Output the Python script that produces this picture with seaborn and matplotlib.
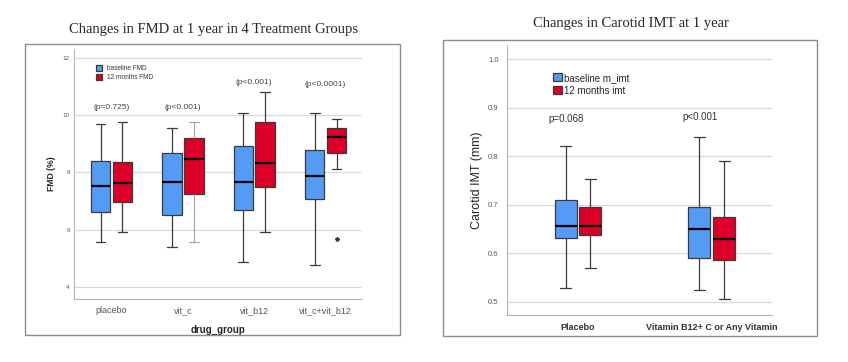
import numpy as np
import pandas as pd
import seaborn as sns
import matplotlib.pyplot as plt
from matplotlib.patches import Rectangle


# ----------------------------------------
# DATA (five-number summaries)
# ----------------------------------------

fmd_groups = ["placebo", "vit_c", "vit_b12", "vit_c+vit_b12"]
fmd_series = ["baseline FMD", "12 months FMD"]
# low whisker, Q1, median, Q3, high whisker
fmd_baseline = [
    [5.56, 6.61, 7.51, 8.40, 9.67],
    [5.40, 6.51, 7.66, 8.66, 9.53],
    [4.87, 6.67, 7.66, 8.92, 10.08],
    [4.76, 7.08, 7.88, 8.79, 10.08],
]
fmd_12m = [
    [5.91, 6.98, 7.62, 8.37, 9.75],
    [5.57, 7.23, 8.45, 9.20, 9.75],
    [5.91, 7.48, 8.31, 9.75, 10.79],
    [8.10, 8.66, 9.24, 9.53, 9.86],
]
fmd_outlier_group = "vit_c+vit_b12"
fmd_outlier_value = 5.67
fmd_pvalues = ["(p=0.725)", "(p<0.001)", "(p<0.001)", "(p<0.0001)"]
fmd_pvalue_y = [10.25, 10.25, 11.14, 11.06]
fmd_yticks = [4, 6, 8, 10, 12]

imt_groups = ["Placebo", "Vitamin B12+ C or Any Vitamin"]
imt_series = ["baseline m_imt", "12 months imt"]
imt_baseline = [
    [0.529, 0.631, 0.655, 0.710, 0.821],
    [0.525, 0.590, 0.649, 0.695, 0.840],
]
imt_12m = [
    [0.570, 0.637, 0.655, 0.695, 0.753],
    [0.505, 0.585, 0.630, 0.675, 0.790],
]
imt_pvalues = ["p=0.068", "p<0.001"]
imt_pvalue_y = [0.876, 0.880]
imt_yticks = [0.5, 0.6, 0.7, 0.8, 0.9, 1.0]

BLUE = "#559bf5"
RED = "#dc0028"
EDGE = "#3a3a3a"
GRID = "#d9d9d9"


def long_frame(groups, series, base, later):
    rows = []
    for g, b, l in zip(groups, base, later):
        for v in b:
            rows.append({"group": g, "series": series[0], "value": v})
        for v in l:
            rows.append({"group": g, "series": series[1], "value": v})
    return pd.DataFrame(rows)


fmd_df = long_frame(fmd_groups, fmd_series, fmd_baseline, fmd_12m)
imt_df = long_frame(imt_groups, imt_series, imt_baseline, imt_12m)

sns.set_style("white")
plt.rcParams["font.family"] = ["Liberation Sans", "DejaVu Sans"]

fig = plt.figure(figsize=(8.48, 3.62), dpi=100)

# panel frames
for x0, y0, w, h in [(0.0295, 0.0746, 0.4422, 0.8039), (0.5224, 0.0718, 0.4410, 0.8177)]:
    fig.patches.append(Rectangle((x0, y0), w, h, transform=fig.transFigure,
                                 fill=False, edgecolor="#8c8c8c", linewidth=1.0))

box_kws = dict(x="group", y="value", hue="series", palette=[BLUE, RED],
               whis=np.inf, linecolor=EDGE, linewidth=0.9, gap=0.11,
               medianprops=dict(color="black", linewidth=1.6),
               saturation=1)

# ----------------------------------------
# LEFT: FMD
# ----------------------------------------
ax1 = fig.add_axes([0.0873, 0.174, 0.3396, 0.6906])
sns.boxplot(data=fmd_df, ax=ax1, width=0.615, **box_kws)

# lighter whiskers on the vit_c 12-month box, as in the original
for ln in ax1.lines:
    xd = np.asarray(ln.get_xdata(), dtype=float)
    yd = np.asarray(ln.get_ydata(), dtype=float)
    if abs(xd.mean() - 1.154) < 0.06 and not np.allclose(yd, fmd_12m[1][2]):
        ln.set_color("#a8a8a8")

ox = fmd_groups.index(fmd_outlier_group) + 0.154
ax1.plot([ox], [fmd_outlier_value], marker="*", color="#333333", markersize=3, linestyle="none")

for i, (txt, y) in enumerate(zip(fmd_pvalues, fmd_pvalue_y)):
    ax1.text(i, y, txt, ha="center", va="center", fontsize=6, color="#3b4252")

ax1.set_xlim(-0.525, 3.51)
ax1.set_ylim(3.58, 12.3)
ax1.set_yticks(fmd_yticks)
ax1.yaxis.grid(True, color=GRID, linewidth=0.9)
ax1.set_axisbelow(True)
for s in ["top", "right"]:
    ax1.spines[s].set_visible(False)
for s in ["left", "bottom"]:
    ax1.spines[s].set_color("#b5b5b5")
ax1.tick_params(axis="y", labelsize=4.5, labelcolor="#555555", length=0, pad=3)
ax1.tick_params(axis="x", labelsize=6.5, labelcolor="#555555", length=0, pad=5)
ax1.set_xlabel("drug_group", fontsize=7, fontweight="bold", labelpad=7)
ax1.set_ylabel("FMD (%)", fontsize=6.2, fontweight="bold", labelpad=5)
leg1 = ax1.legend(loc="upper left", bbox_to_anchor=(0.055, 0.96), frameon=False,
                  fontsize=4.7, handlelength=1.0, handleheight=1.0,
                  handletextpad=0.8, labelspacing=0.35)
for t in leg1.get_texts():
    t.set_color("#333333")
fig.text(0.2512, 0.918, "Changes in FMD at 1 year in 4 Treatment Groups",
         ha="center", va="center", fontsize=10.5, family="Liberation Serif")

# ----------------------------------------
# RIGHT: Carotid IMT
# ----------------------------------------
ax2 = fig.add_axes([0.5979, 0.1298, 0.3125, 0.7459])
sns.boxplot(data=imt_df, ax=ax2, width=0.37, **box_kws)

for i, (txt, y) in enumerate(zip(imt_pvalues, imt_pvalue_y)):
    ax2.text(i - 0.09, y, txt, ha="center", va="center", fontsize=7, color="#333333")

ax2.set_xlim(-0.53, 1.45)
ax2.set_ylim(0.4726, 1.029)
ax2.set_yticks(imt_yticks)
ax2.set_yticklabels([f"{v:.1f}" for v in imt_yticks])
ax2.yaxis.grid(True, color=GRID, linewidth=0.9)
ax2.set_axisbelow(True)
for s in ["top", "right"]:
    ax2.spines[s].set_visible(False)
for s in ["left", "bottom"]:
    ax2.spines[s].set_color("#b5b5b5")
ax2.tick_params(axis="y", labelsize=5.5, labelcolor="#555555", length=0, pad=6)
ax2.tick_params(axis="x", labelsize=6.5, labelcolor="#333333", length=0, pad=6)
for t in ax2.get_xticklabels():
    t.set_fontweight("bold")
ax2.set_xlabel("")
ax2.set_ylabel("Carotid IMT (mm)", fontsize=9, labelpad=4)
leg2 = ax2.legend(loc="upper left", bbox_to_anchor=(0.14, 0.93), frameon=False,
                  fontsize=7, handlelength=0.9, handleheight=0.9,
                  handletextpad=0.2, labelspacing=0.3)
fig.text(0.744, 0.936, "Changes in Carotid IMT at 1 year",
         ha="center", va="center", fontsize=10.5, family="Liberation Serif")

plt.savefig("out.png", dpi=100)
